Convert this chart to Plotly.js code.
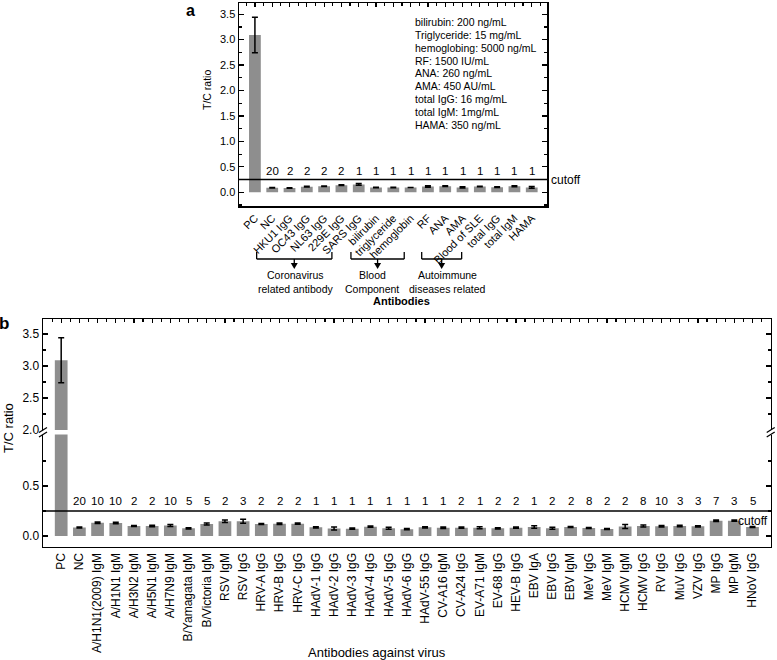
<!DOCTYPE html>
<html><head><meta charset="utf-8">
<script src="https://cdn.plot.ly/plotly-3.0.1.min.js"></script>
<style>body{margin:0;padding:0;background:#fff}#chart{width:777px;height:660px}</style>
</head><body><div id="chart"></div>
<script>
// ---- Panel a data ----
const catsA = ['PC','NC','HKU1 IgG','OC43 IgG','NL63 IgG','229E IgG','SARS IgG','bilirubin','triglyceride','hemoglobin','RF','ANA','AMA','Blood of SLE','total IgG','total IgM','HAMA'];
const valsA = [3.09,0.09,0.085,0.11,0.117,0.14,0.155,0.093,0.093,0.093,0.115,0.12,0.095,0.112,0.10,0.12,0.095];
const errA  = [0.35,0.006,0.006,0.006,0.006,0.006,0.015,0.006,0.006,0,0.015,0.006,0.012,0.006,0.006,0.01,0.018];
const countsA = ['','20','2','2','2','2','1','1','1','1','1','1','1','1','1','1','1'];
const interferents = ['bilirubin: 200 ng/mL','Triglyceride: 15 mg/mL','hemoglobing: 5000 ng/mL','RF: 1500 IU/mL','ANA: 260 ng/mL','AMA: 450 AU/mL','total IgG: 16 mg/mL','total IgM: 1mg/mL','HAMA: 350 ng/mL'];
const groupLabels = [['Coronavirus','related antibody'], ['Blood','Component'], ['Autoimmune','diseases related']];
// ---- Panel b data ----
const catsB = ['PC','NC','A/H1N1(2009) IgM','A/H1N1 IgM','A/H3N2 IgM','A/H5N1 IgM','A/H7N9 IgM','B/Yamagata IgM','B/Victoria IgM','RSV IgM','RSV IgG','HRV-A IgG','HRV-B IgG','HRV-C IgG','HAdV-1 IgG','HAdV-2 IgG','HAdV-3 IgG','HAdV-4 IgG','HAdV-5 IgG','HAdV-6 IgG','HAdV-55 IgG','CV-A16 IgM','CV-A24 IgG','EV-A71 IgM','EV-68 IgG','HEV-B IgG','EBV IgA','EBV IgG','EBV IgM','MeV IgG','MeV IgM','HCMV IgM','HCMV IgG','RV IgG','MuV IgG','VZV IgG','MP IgG','MP IgM','HNoV IgG'];
const valsB = [3.09,0.085,0.133,0.13,0.10,0.10,0.105,0.077,0.12,0.147,0.147,0.12,0.123,0.123,0.087,0.075,0.073,0.093,0.077,0.068,0.087,0.083,0.083,0.083,0.077,0.083,0.09,0.077,0.09,0.08,0.07,0.095,0.10,0.097,0.10,0.097,0.153,0.153,0.09];
const errB  = [0.35,0.006,0.007,0.007,0.006,0.007,0.01,0.006,0.01,0.012,0.02,0.006,0.008,0.006,0.006,0.015,0.006,0.006,0.01,0.006,0.006,0.008,0.006,0.01,0.006,0.006,0.012,0.01,0.006,0.006,0.006,0.02,0.01,0.008,0.008,0.006,0.007,0.006,0.006];
const countsB = ['','20','10','10','2','2','10','5','5','2','3','2','2','2','1','1','1','1','1','1','1','1','2','1','2','2','1','2','2','8','2','2','8','10','3','3','7','3','5'];
const cutoff = 0.25;

const W = 777, H = 660;
const px = x => x / W, py = y => 1 - y / H;
const FONT = 'Arial, "Liberation Sans", sans-serif';
const GRAY = '#8e8e8e';

// geometry (pixels)
const A = {l:239, r:547.3, t:3, b:206};
const B = {l:43, r:770.7, t:319.3, brk1:430, brk2:434.5, b:546.7};
const xrA = [-0.92, 16.9], xrB = [-1, 39];
// bracket spans in category-index units of panel a, and label shifts (px)
const bracketSpans = [[0.1, 4.45], [5.55, 8.63], [9.64, 11.95]];
const labelShift = [1, -5.5, 6];

const errStyle = arr => ({type:'data', array:arr, visible:true, color:'#000', thickness:1.5, width:3});
const dummy = (xa, ya) => ({type:'scatter', mode:'none', x:[], y:[], xaxis:xa, yaxis:ya, hoverinfo:'none', showlegend:false});

const traces = [
  {type:'bar', x:catsA, y:valsA, error_y:errStyle(errA), marker:{color:GRAY}, width:0.68, xaxis:'x', yaxis:'y', hoverinfo:'none'},
  {type:'bar', x:catsB, y:valsB, error_y:errStyle(errB), marker:{color:GRAY}, width:0.7, xaxis:'x2', yaxis:'y2', hoverinfo:'none'},
  {type:'bar', x:catsB, y:valsB, error_y:errStyle(errB), marker:{color:GRAY}, width:0.7, xaxis:'x2', yaxis:'y3', hoverinfo:'none'},
  dummy('x3','y'), dummy('x','y4'), dummy('x4','y3'), dummy('x2','y5'), dummy('x2','y6')
];

const tickCommon = {ticks:'inside', ticklen:5, tickwidth:1.2, tickcolor:'#000', showgrid:false, zeroline:false,
  showline:true, linecolor:'#000', linewidth:1.5};
const minorOf = vals => ({tickmode:'array', tickvals:vals, ticks:'inside', ticklen:3, tickwidth:1.2, tickcolor:'#000', showgrid:false});
const yLeft = (dom, anchor, range, vals, minor, fs) => Object.assign({}, tickCommon, {domain:dom, anchor:anchor, range:range,
  tickmode:'array', tickvals:vals, ticktext:vals.map(v => v.toFixed(1)), minor:minorOf(minor), mirror:false,
  tickfont:{family:FONT, size:fs, color:'#000'}});
const yRight = (over, anchor, range, vals, minor) => Object.assign({}, tickCommon, {overlaying:over, side:'right', anchor:anchor,
  range:range, tickmode:'array', tickvals:vals, ticktext:vals.map(() => ''), minor:minorOf(minor), showticklabels:false});
const xTop = (over, anchor, range) => Object.assign({}, tickCommon, {overlaying:over, side:'top', anchor:anchor,
  type:'linear', range:range, tickmode:'linear', tick0:0, dtick:1, ticklen:4,
  minor:{tick0:0.5, dtick:1, ticks:'inside', ticklen:3, tickwidth:1.2, tickcolor:'#000', showgrid:false}, showticklabels:false});

const valsAy = [0,0.5,1,1.5,2,2.5,3,3.5], minorAy = [-0.25,0.25,0.75,1.25,1.75,2.25,2.75,3.25];
const valsBlo = [0,0.5], minorBlo = [0.25,0.75];
const valsBhi = [2,2.5,3,3.5], minorBhi = [2.25,2.75,3.25];
const rA = [-0.27,3.72], rBlo = [-0.107,1.015], rBhi = [2.0,3.73];

const layout = {
  width:W, height:H, autosize:false, margin:{l:0,r:0,t:0,b:0}, showlegend:false,
  paper_bgcolor:'#fff', plot_bgcolor:'rgba(0,0,0,0)',
  font:{family:FONT, color:'#000'},
  xaxis:{domain:[px(A.l),px(A.r)], anchor:'y', type:'category', range:xrA, showline:true, linecolor:'#000', linewidth:1.5,
    ticks:'', tickangle:-45, tickfont:{family:FONT, size:11, color:'#000'}, showgrid:false, zeroline:false},
  yaxis:yLeft([py(A.b),py(A.t)], 'x', rA, valsAy, minorAy, 11),
  yaxis4:yRight('y', 'x', rA, valsAy, minorAy),
  xaxis3:xTop('x', 'y', xrA),
  xaxis2:{domain:[px(B.l),px(B.r)], anchor:'y2', type:'category', range:xrB, showline:true, linecolor:'#000', linewidth:1.5,
    ticks:'', tickangle:-90, tickfont:{family:FONT, size:12, color:'#000'}, showgrid:false, zeroline:false},
  yaxis2:yLeft([py(B.b),py(B.brk2)], 'x2', rBlo, valsBlo, minorBlo, 12),
  yaxis3:yLeft([py(B.brk1),py(B.t)], 'x2', rBhi, valsBhi, minorBhi, 12),
  yaxis5:yRight('y2', 'x2', rBlo, valsBlo, minorBlo),
  yaxis6:yRight('y3', 'x2', rBhi, valsBhi, minorBhi),
  xaxis4:xTop('x2', 'y3', xrB),
  shapes:[], annotations:[]
};

const S = layout.shapes, N = layout.annotations;
const L = (x0,y0,x1,y1,w) => S.push({type:'line', xref:'paper', yref:'paper', x0:px(x0), y0:py(y0), x1:px(x1), y1:py(y1), line:{color:'#000', width:w||1.5}});
const T = (x, y, text, size, xa, ya, extra) => N.push(Object.assign({xref:'paper', yref:'paper', x:px(x), y:py(y), text:text,
  xanchor:xa||'center', yanchor:ya||'middle', showarrow:false, font:{size:size}}, extra||{}));

// cutoff lines
S.push({type:'line', xref:'paper', yref:'y', x0:px(A.l), x1:px(A.r), y0:cutoff, y1:cutoff, line:{color:'#000', width:1.5}});
S.push({type:'line', xref:'paper', yref:'y2', x0:px(B.l), x1:px(B.r), y0:cutoff, y1:cutoff, line:{color:'#000', width:1.5}});
N.push({xref:'paper', yref:'y', x:px(A.r+2), y:cutoff, xanchor:'left', yanchor:'middle', text:'cutoff', showarrow:false, font:{size:12}});
N.push({xref:'paper', yref:'y2', x:px(B.r-1), y:cutoff-0.005, xanchor:'right', yanchor:'top', text:'cutoff', showarrow:false, font:{size:12}});

// axis break marks
[B.l, B.r].forEach(x => {
  S.push({type:'rect', xref:'paper', yref:'paper', x0:px(x-3), x1:px(x+3), y0:py(B.brk2), y1:py(B.brk1), fillcolor:'#fff', line:{width:0}});
  L(x-4, B.brk1+2.5, x+4, B.brk1-2.5, 1.3);
  L(x-4, B.brk2+2.5, x+4, B.brk2-2.5, 1.3);
});

// counts
countsA.forEach((c,i) => { if (c) N.push({xref:'x', yref:'y', x:catsA[i], y:0.27, xanchor:'center', yanchor:'bottom', text:c, showarrow:false, font:{size:11.5}}); });
countsB.forEach((c,i) => { if (c) N.push({xref:'x2', yref:'y2', x:catsB[i], y:0.275, xanchor:'center', yanchor:'bottom', text:c, showarrow:false, font:{size:11.5}}); });

// interferent concentrations
interferents.forEach((t,i) => T(413, 21.7 + i*12.95, t, 10.5, 'left', 'middle'));

// group brackets (panel a), x in category units
const xPix = v => A.l + (v - xrA[0]) / (xrA[1]-xrA[0]) * (A.r - A.l);
bracketSpans.forEach((sp, gi) => {
  const x0 = xPix(sp[0]), x1 = xPix(sp[1]), xm = (x0 + x1) / 2;
  L(x0, 252, x0, 259, 1.3); L(x1, 252, x1, 259, 1.3); L(x0, 259, x1, 259, 1.3);
  L(xm, 259, xm, 263, 1.3);
  S.push({type:'path', xref:'paper', yref:'paper', path:`M ${px(xm-3.5)} ${py(263)} L ${px(xm+3.5)} ${py(263)} L ${px(xm)} ${py(269)} Z`, fillcolor:'#000', line:{width:0}});
  groupLabels[gi].forEach((t,k) => T(xm + labelShift[gi], 275 + k*13.5, t, 10.5));
});

// axis titles & panel letters
T(401, 301, '<b>Antibodies</b>', 11);
T(377, 652, 'Antibodies against virus', 13);
T(207, 90, 'T/C ratio', 10.5, 'center', 'middle', {textangle:-90});
T(8, 428, 'T/C ratio', 13, 'center', 'middle', {textangle:-90});
T(190, 10.5, '<b>a</b>', 16);
T(4, 323, '<b>b</b>', 17);

Plotly.newPlot('chart', traces, layout, {staticPlot:true, displayModeBar:false});
</script></body></html>
